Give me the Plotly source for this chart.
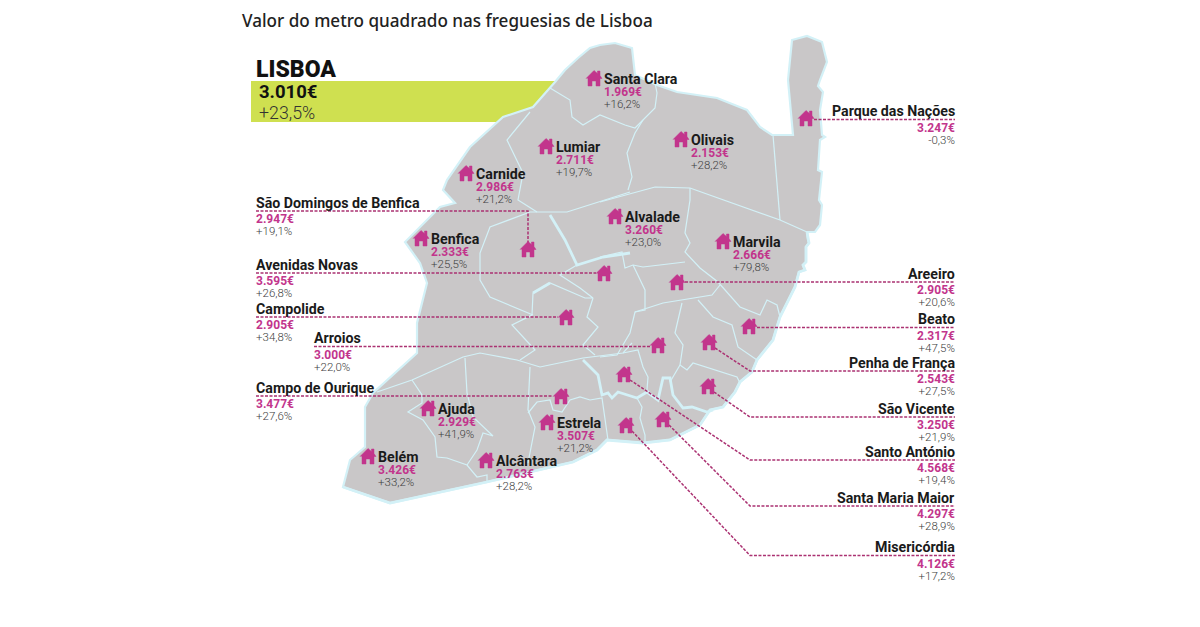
import plotly.graph_objects as go

FONT_TITLE = "Noto Sans"
FONT_LABEL = "Roboto"

PINK = "#c2358c"
LINE_PINK = "#ab3272"
GREY_MAP = "#c9c7c8"
PALE_BLUE = "#d3f1f7"
GREEN = "#cfe050"

# freguesias drawn with the label sitting inside the map
inside_names = ["Santa Clara", "Lumiar", "Carnide", "Olivais", "Benfica", "Alvalade",
                "Marvila", "Ajuda", "Estrela", "Belém", "Alcântara"]
inside_prices = ["1.969€", "2.711€", "2.986€", "2.153€", "2.333€", "3.260€",
                 "2.666€", "2.929€", "3.507€", "3.426€", "2.763€"]
inside_changes = ["+16,2%", "+19,7%", "+21,2%", "+28,2%", "+25,5%", "+23,0%",
                  "+79,8%", "+41,9%", "+21,2%", "+33,2%", "+28,2%"]
inside_house_x = [594, 546, 466, 681, 421, 615, 723, 428, 547, 368, 486]
inside_house_y = [78, 146, 173, 139, 238, 216, 241, 408, 422, 456, 460]

# freguesias with a leader line to the left column
left_names = ["São Domingos de Benfica", "Avenidas Novas", "Campolide", "Arroios", "Campo de Ourique"]
left_prices = ["2.947€", "3.595€", "2.905€", "3.000€", "3.477€"]
left_changes = ["+19,1%", "+26,8%", "+34,8%", "+22,0%", "+27,6%"]
left_house_x = [528, 604, 566, 658, 561]
left_house_y = [249, 273, 317, 345, 396]
left_line_x = [256, 256, 256, 314, 256]
left_line_y = [211, 273, 317, 346.5, 396]

# freguesias with a leader line to the right column
right_names = ["Parque das Nações", "Areeiro", "Beato", "Penha de França", "São Vicente",
               "Santo António", "Santa Maria Maior", "Misericórdia"]
right_prices = ["3.247€", "2.905€", "2.317€", "2.543€", "3.250€", "4.568€", "4.297€", "4.126€"]
right_changes = ["-0,3%", "+20,6%", "+47,5%", "+27,5%", "+21,9%", "+19,4%", "+28,9%", "+17,2%"]
right_house_x = [806, 677, 749, 709, 708, 624, 663, 626]
right_house_y = [118, 282, 326, 342, 386, 374, 419, 425]
right_line_y = [119.5, 282, 327.5, 371, 417, 460, 506, 555.5]

# city outline
outline_x = [555, 565, 578, 590, 600, 615, 632, 634, 635, 657, 677, 717, 747, 760, 772, 793, 788,
             792, 807, 822, 827, 820, 818, 823, 820, 822, 825, 820, 818, 822, 819, 822, 820, 815,
             807, 808, 809, 806, 806, 803, 805, 799, 795, 780, 773, 757, 752, 740, 735,
             723, 710, 700, 670, 643, 607, 597, 573, 487, 390, 343, 347, 350, 365, 365, 373, 417, 417,
             427, 420, 405, 440, 455, 443, 447, 470, 503, 533, 550]
outline_y = [82, 70, 58, 48, 45, 43, 48, 70, 75, 85, 92, 98, 110, 127, 135, 135, 80,
             40, 36, 42, 62, 80, 86, 92, 110, 135, 137, 140, 170, 172, 200, 205, 225, 232,
             232, 240, 243, 247, 262, 265, 270, 272, 287, 317, 340, 360, 372, 382, 392,
             407, 410, 425, 440, 443, 440, 450, 462, 482, 503, 487, 473, 460, 447, 407, 393, 353, 323,
             283, 263, 242, 207, 203, 190, 180, 147, 117, 107, 87]

# borders between freguesias: thin ones
border_x = [
    [550, 570, 572, 583, 600, 625, 635, 643, 655, 657, 655],
    [643, 635, 627, 632, 628],
    [530, 507, 523, 518, 537],
    [630, 567, 530, 490, 480, 480, 490, 533],
    [600, 655, 690, 780, 807],
    [773, 780],
    [690, 690, 685, 690, 685, 700, 718, 740, 760, 767, 777, 780],
    [685, 643, 633, 625, 622, 600],
    [577, 560, 580, 593, 585, 550, 533, 532, 512, 535, 520],
    [633, 645, 645, 635, 630, 617, 600],
    [593, 587, 598, 583, 595],
    [635, 663, 712, 720],
    [682, 675, 683, 680],
    [698, 713, 732, 738, 757],
    [680, 687, 693, 737, 740],
    [680, 670],
    [377, 412, 463, 480, 517, 540, 583, 623, 632],
    [412, 422, 422, 408, 423, 435, 437, 447, 467, 477, 487, 487],
    [465, 467, 473, 493, 483, 477, 467],
    [530, 528, 535, 528],
    [528, 537, 550, 553, 562, 570, 580, 590, 602, 608],
    [623, 638, 643, 648, 647, 658],
    [637, 642, 640, 645, 645],
]
border_y = [
    [88, 100, 117, 125, 115, 125, 128, 120, 108, 93, 83],
    [120, 133, 153, 177, 190],
    [112, 140, 173, 200, 212],
    [192, 212, 212, 227, 253, 280, 297, 315],
    [202, 187, 188, 220, 232],
    [135, 220],
    [188, 200, 233, 243, 252, 268, 282, 307, 315, 300, 305, 317],
    [262, 267, 265, 268, 252, 257],
    [265, 275, 288, 298, 298, 283, 293, 315, 325, 350, 360],
    [265, 290, 310, 312, 333, 355, 357],
    [298, 317, 327, 345, 355],
    [312, 303, 295, 285],
    [303, 333, 345, 365],
    [300, 317, 325, 347, 360],
    [365, 370, 363, 377, 383],
    [365, 382],
    [392, 380, 357, 353, 360, 367, 358, 353, 343],
    [380, 395, 403, 412, 420, 437, 457, 458, 465, 477, 475, 482],
    [358, 393, 417, 436, 433, 450, 465],
    [367, 410, 427, 463],
    [413, 402, 400, 410, 412, 400, 397, 400, 398, 440],
    [353, 350, 367, 377, 390, 400],
    [398, 407, 418, 435, 442],
]

# borders drawn heavier: main avenues, old city edge and the river front
thick_x = [
    [630, 603, 577, 565, 550],
    [583, 598, 602, 608, 612, 618, 637, 647, 658, 663, 670, 673, 683, 692, 707, 713],
    [550, 533],
    [807, 808, 809, 806, 806, 803, 805, 799, 795, 780, 773, 757, 752, 740, 735, 723, 710, 700, 670,
     643, 607, 597, 573, 487, 390, 343],
]
thick_y = [
    [253, 257, 265, 240, 215],
    [360, 375, 395, 393, 398, 392, 398, 392, 400, 378, 378, 395, 408, 407, 412, 410],
    [283, 293],
    [232, 240, 243, 247, 262, 265, 270, 272, 287, 317, 340, 360, 372, 382, 392, 407, 410, 425, 440,
     443, 440, 450, 462, 482, 503, 487],
]

# little house icon, offsets in pixels from its centre
house_dx = [-8, -1, 0, 3.5, 3.5, 6, 6, 8, 6, 6, 2, 2, -2, -2, -6, -6]
house_dy = [0.5, -6.5, -7.5, -4.5, -7, -7, -2.5, 0.5, 0.5, 8, 8, 3, 3, 8, 8, 0.5]


def add_text(fig, x, y, text, anchor, family, size, color, weight="normal"):
    fig.add_annotation(x=x, y=y, text=text, xanchor=anchor, yanchor="middle", showarrow=False,
                       xref="x", yref="y", borderpad=0,
                       font=dict(family=family, size=size, color=color, weight=weight))


def price_lines(price, change):
    return (f'<span style="font-size:12px;font-weight:bold;color:{PINK}">{price}</span><br>'
            f'<span style="font-size:11.5px;font-weight:300;color:#404040">{change}</span>')


def add_lines(fig, x, y, text, anchor, step):
    # one text with several lines, the line step comes from the base font size (1.3 x size)
    fig.add_annotation(x=x, y=y, text=text, xanchor=anchor, yanchor="middle", align=anchor,
                       showarrow=False, xref="x", yref="y", borderpad=0,
                       font=dict(family=FONT_LABEL, size=step / 1.3, color="#1a1a1a"))


def add_inside_block(fig, x, y, name, price, change):
    text = f'<span style="font-size:14.2px;font-weight:bold;color:#1a1a1a">{name}</span><br>' + price_lines(price, change)
    add_lines(fig, x, y, text, "left", 12)


def add_block(fig, x, ly, name, price, change, anchor="left"):
    add_text(fig, x, ly - 8.5, name, anchor, FONT_LABEL, 14.2, "#1a1a1a", "bold")
    add_lines(fig, x, ly + 14, price_lines(price, change), anchor, 11.5)


def add_leader(fig, xs, ys):
    fig.add_trace(go.Scatter(x=xs, y=ys, mode="lines", hoverinfo="skip",
                             line=dict(color=LINE_PINK, width=1.5, dash="3px,1.5px")))


fig = go.Figure()

# green LISBOA band goes under the map so the map edge cuts it
fig.add_shape(type="rect", x0=251, x1=560, y0=81, y1=122, fillcolor=GREEN, line_width=0, layer="below")

fig.add_trace(go.Scatter(x=outline_x + outline_x[:1], y=outline_y + outline_y[:1], mode="lines",
                         fill="toself", fillcolor=GREY_MAP, hoverinfo="skip",
                         line=dict(color=PALE_BLUE, width=2.2)))

for bx, by in zip(border_x, border_y):
    fig.add_trace(go.Scatter(x=bx, y=by, mode="lines", hoverinfo="skip",
                             line=dict(color=PALE_BLUE, width=1.2)))
for bx, by in zip(thick_x, thick_y):
    fig.add_trace(go.Scatter(x=bx, y=by, mode="lines", hoverinfo="skip",
                             line=dict(color=PALE_BLUE, width=2.8)))

# leader lines
for i in range(len(left_names)):
    if i == 0:
        # São Domingos goes along then drops down to the house
        add_leader(fig, [left_line_x[i], left_house_x[i], left_house_x[i]],
                   [left_line_y[i], left_line_y[i], left_house_y[i] - 6])
    else:
        add_leader(fig, [left_line_x[i], left_house_x[i] - 8], [left_line_y[i], left_line_y[i]])

for i in range(len(right_names)):
    if i < 3:
        add_leader(fig, [right_house_x[i] + 8, 955], [right_line_y[i], right_line_y[i]])
    else:
        add_leader(fig, [right_house_x[i] + 6, 750, 955],
                   [right_house_y[i] + 6, right_line_y[i], right_line_y[i]])

# houses
house_x = inside_house_x + left_house_x + right_house_x
house_y = inside_house_y + left_house_y + right_house_y
for hx, hy in zip(house_x, house_y):
    fig.add_trace(go.Scatter(x=[hx + d for d in house_dx], y=[hy + d for d in house_dy],
                             mode="lines", fill="toself", fillcolor=PINK, hoverinfo="skip",
                             line=dict(color=PINK, width=0.5)))

# labels
for i in range(len(inside_names)):
    hx, hy = inside_house_x[i], inside_house_y[i]
    add_inside_block(fig, hx + 8.5, hy + 12.5, inside_names[i], inside_prices[i], inside_changes[i])

for i in range(len(left_names)):
    add_block(fig, left_line_x[i] - 1, left_line_y[i], left_names[i], left_prices[i], left_changes[i])

for i in range(len(right_names)):
    add_block(fig, 956, right_line_y[i], right_names[i], right_prices[i], right_changes[i], anchor="right")

add_text(fig, 241, 20, "Valor do metro quadrado nas freguesias de Lisboa", "left", FONT_TITLE, 17.1, "#222222", 500)
add_text(fig, 255, 69, "LISBOA", "left", FONT_LABEL, 23, "#111111", 900)
add_text(fig, 258, 92, "3.010€", "left", FONT_LABEL, 18.5, "#111111", "bold")
add_text(fig, 258, 112, "+23,5%", "left", FONT_LABEL, 17.8, "#333333", 300)

fig.update_layout(
    width=1200,
    height=627,
    margin=dict(l=0, r=0, t=0, b=0),
    paper_bgcolor="white",
    plot_bgcolor="white",
    showlegend=False,
    xaxis=dict(range=[0, 1200], visible=False, fixedrange=True),
    yaxis=dict(range=[627, 0], visible=False, fixedrange=True),
)

fig.write_html("out.html", config={"displayModeBar": False}, post_script="document.body.style.margin='0';")
